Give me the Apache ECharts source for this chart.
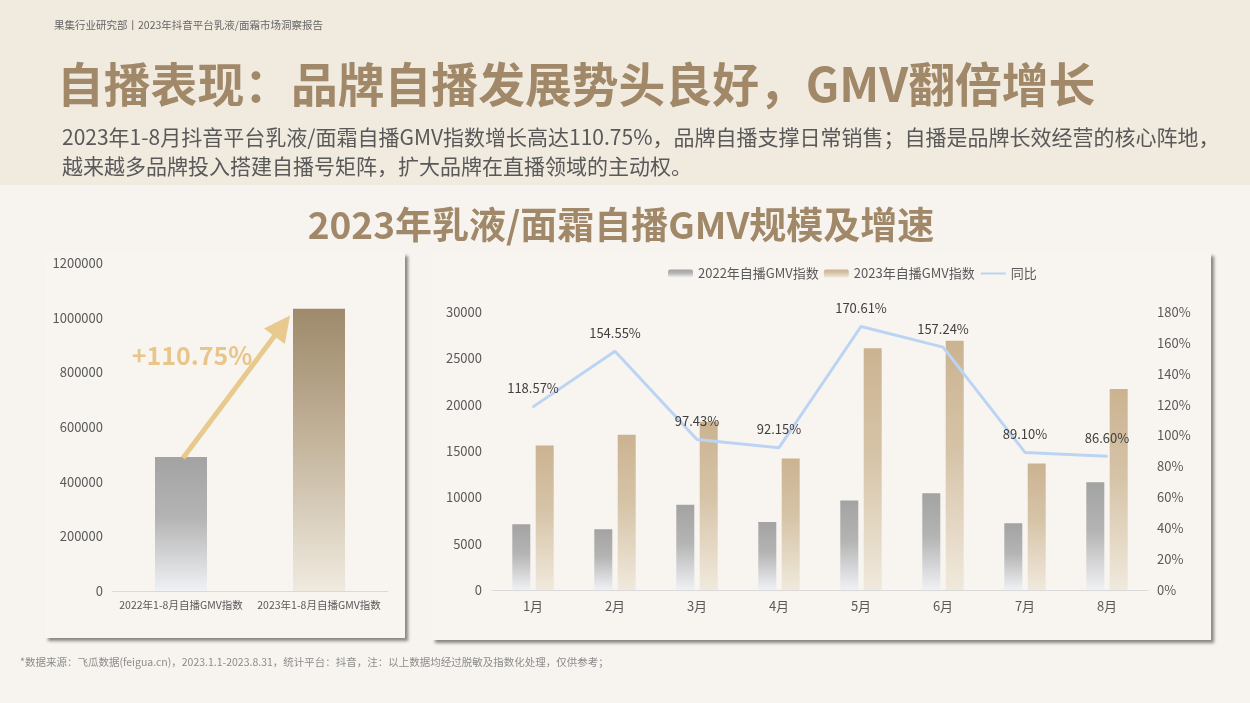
<!DOCTYPE html>
<html><head><meta charset="utf-8">
<script src="https://cdn.jsdelivr.net/npm/echarts@6.0.0/dist/echarts.min.js"></script>
<style>html,body{margin:0;padding:0;background:#f7f4ef}#c{width:1250px;height:703px}</style>
</head><body><div id="c"></div>
<script>
// ---- data ----
const totalCategories = ['2022年1-8月自播GMV指数', '2023年1-8月自播GMV指数'];
const totalValues = [490000, 1032700];
const totalGrowthText = '+110.75%';
const months = ['1月', '2月', '3月', '4月', '5月', '6月', '7月', '8月'];
const gmv2022 = [7100, 6550, 9200, 7350, 9650, 10440, 7200, 11630];
const gmv2023 = [15600, 16750, 18160, 14200, 26100, 26900, 13650, 21700];
const yoyPct = [118.57, 154.55, 97.43, 92.15, 170.61, 157.24, 89.10, 86.60];
const seriesNames = ['2022年自播GMV指数', '2023年自播GMV指数', '同比'];
const headerText = '果集行业研究部丨2023年抖音平台乳液/面霜市场洞察报告';
const titleText = '自播表现：品牌自播发展势头良好，GMV翻倍增长';
const subLines = ['2023年1-8月抖音平台乳液/面霜自播GMV指数增长高达110.75%，品牌自播支撑日常销售；自播是品牌长效经营的核心阵地，',
                  '越来越多品牌投入搭建自播号矩阵，扩大品牌在直播领域的主动权。'];
const chartTitle = '2023年乳液/面霜自播GMV规模及增速';
const footText = '*数据来源：飞瓜数据(feigua.cn)，2023.1.1-2023.8.31，统计平台：抖音，注：以上数据均经过脱敏及指数化处理，仅供参考；';

const FONT = '"Noto Sans CJK SC", "Noto Sans", sans-serif';
const TITLE_COLOR = '#a08868';

function grad(top, mid, bottom) {
  return new echarts.graphic.LinearGradient(0, 0, 0, 1, [
    { offset: 0, color: top }, { offset: 0.45, color: mid }, { offset: 1, color: bottom }
  ]);
}
const grey = () => grad('#a3a3a3', '#b4b4b4', '#f0f1f4');
const tan = () => grad('#cbb391', '#d6c4a8', '#f0e9dc');
const tanDark = () => grad('#9e8a6b', '#c2b299', '#efeadf');

const chart = echarts.init(document.getElementById('c'), null, { renderer: 'canvas' });

function baseGraphics(extra) {
  const els = [
    { id: 'bg', type: 'rect', z: -100, shape: { x: 0, y: 0, width: 1250, height: 703 }, style: { fill: '#f7f4ef' } },
    { id: 'hdr', type: 'rect', z: -99, shape: { x: 0, y: 0, width: 1250, height: 185 }, style: { fill: '#f0eadf' } },
    { id: 'p1', type: 'rect', z: -98, shape: { x: 45, y: 253, width: 360, height: 385 },
      style: { fill: '#f8f5f0', shadowBlur: 3, shadowOffsetX: 3, shadowOffsetY: 3, shadowColor: 'rgba(0,0,0,0.45)' } },
    { id: 'p2', type: 'rect', z: -98, shape: { x: 432, y: 253, width: 779, height: 387 },
      style: { fill: '#f8f5f0', shadowBlur: 3, shadowOffsetX: 3, shadowOffsetY: 3, shadowColor: 'rgba(0,0,0,0.45)' } },
    { id: 't0', type: 'text', z: 50, x: 54, y: 25, style: { text: headerText, font: '10.5px ' + FONT, fill: '#666', textVerticalAlign: 'middle' } },
    { id: 't1', type: 'text', z: 50, x: 57, y: 84, style: { text: titleText, font: 'bold 46.8px ' + FONT, fill: TITLE_COLOR, textVerticalAlign: 'middle' } },
    { id: 't2', type: 'text', z: 50, x: 62, y: 137, style: { text: subLines[0], font: '21px ' + FONT, fill: '#595959', textVerticalAlign: 'middle' } },
    { id: 't3', type: 'text', z: 50, x: 62, y: 166, style: { text: subLines[1], font: '21px ' + FONT, fill: '#595959', textVerticalAlign: 'middle' } },
    { id: 't4', type: 'text', z: 50, x: 621, y: 225, style: { text: chartTitle, font: 'bold 37px ' + FONT, fill: TITLE_COLOR, textAlign: 'center', textVerticalAlign: 'middle' } },
    { id: 't5', type: 'text', z: 50, x: 20, y: 662, style: { text: footText, font: '10.5px ' + FONT, fill: '#8c8c8c', textVerticalAlign: 'middle' } },
    { id: 't6', type: 'text', z: 60, x: 192, y: 355, style: { text: totalGrowthText, font: 'bold 25px ' + FONT, fill: '#e8c68a', textAlign: 'center', textVerticalAlign: 'middle' } }
  ];
  return els.concat(extra || []);
}

const axisLabelStyle = { color: '#595959', fontSize: 13, fontFamily: FONT };
const plain = v => String(v);

const option = {
  animation: false,
  textStyle: { fontFamily: FONT },
  graphic: { elements: baseGraphics() },
  legend: {
    data: [seriesNames[0], seriesNames[1], { name: seriesNames[2], itemStyle: { opacity: 0 } }],
    left: 663, top: 262, itemWidth: 25, itemHeight: 8, itemGap: 5,
    textStyle: { color: '#595959', fontSize: 13, fontFamily: FONT }
  },
  grid: [
    { left: 112, right: 862, top: 263, bottom: 112 },
    { left: 492, right: 102, top: 312, bottom: 113 }
  ],
  xAxis: [
    { type: 'category', gridIndex: 0, data: totalCategories,
      axisLine: { lineStyle: { color: '#d9d9d9' } }, axisTick: { show: false },
      axisLabel: { color: '#595959', fontSize: 10.5, margin: 9, interval: 0 } },
    { type: 'category', gridIndex: 1, data: months,
      axisLine: { lineStyle: { color: '#d9d9d9' } }, axisTick: { show: false },
      axisLabel: Object.assign({ margin: 10, interval: 0 }, axisLabelStyle) }
  ],
  yAxis: [
    { type: 'value', gridIndex: 0, min: 0, max: 1200000, interval: 200000,
      splitLine: { show: false }, axisLine: { show: false }, axisTick: { show: false },
      axisLabel: Object.assign({ margin: 9, formatter: plain }, axisLabelStyle) },
    { type: 'value', gridIndex: 1, min: 0, max: 30000, interval: 5000,
      splitLine: { show: false }, axisLine: { show: false }, axisTick: { show: false },
      axisLabel: Object.assign({ margin: 10, formatter: plain }, axisLabelStyle) },
    { type: 'value', gridIndex: 1, position: 'right', min: 0, max: 180, interval: 20,
      splitLine: { show: false }, axisLine: { show: false }, axisTick: { show: false },
      axisLabel: Object.assign({ margin: 9, formatter: '{value}%' }, axisLabelStyle) }
  ],
  series: [
    { name: 'total', type: 'bar', xAxisIndex: 0, yAxisIndex: 0, barWidth: 52,
      data: totalValues.map((v, i) => ({ value: v, itemStyle: { color: i === 0 ? grey() : tanDark() } })) },
    { name: seriesNames[0], type: 'bar', xAxisIndex: 1, yAxisIndex: 1, barWidth: 18, barGap: '30%',
      itemStyle: { color: grey() }, data: gmv2022 },
    { name: seriesNames[1], type: 'bar', xAxisIndex: 1, yAxisIndex: 1, barWidth: 18, barGap: '30%',
      itemStyle: { color: tan() }, data: gmv2023 },
    { name: seriesNames[2], type: 'line', xAxisIndex: 1, yAxisIndex: 2, data: yoyPct,
      symbol: 'circle', symbolSize: 2, showSymbol: true, z: 5,
      itemStyle: { color: '#bcd4f4' },
      lineStyle: { color: '#bcd4f4', width: 3 },
      label: { show: true, position: 'top', distance: 11, color: '#404040', fontSize: 13, fontFamily: FONT,
        formatter: p => p.value.toFixed(2) + '%' } }
  ]
};
chart.setOption(option);

// arrow from 2022 bar top toward 2023 bar top (decoration), positioned via axes
const p0 = chart.convertToPixel({ xAxisIndex: 0, yAxisIndex: 0 }, [0, totalValues[0]]);
const p1 = chart.convertToPixel({ xAxisIndex: 0, yAxisIndex: 0 }, [1, totalValues[1]]);
const start = [p0[0] + 2, p0[1] + 1];
const tip = [p0[0] + 0.79 * (p1[0] - p0[0]), p0[1] + 0.955 * (p1[1] - p0[1])];
const dx = tip[0] - start[0], dy = tip[1] - start[1];
const len = Math.sqrt(dx * dx + dy * dy);
const ux = dx / len, uy = dy / len;
const headLen = 26, headHalf = 13;
const base = [tip[0] - ux * headLen, tip[1] - uy * headLen];
const nx = -uy, ny = ux;
const arrowEls = [
  { id: 'arrLine', type: 'line', z: 55, shape: { x1: start[0], y1: start[1], x2: base[0] + ux * 2, y2: base[1] + uy * 2 },
    style: { stroke: '#e8c98e', lineWidth: 5 } },
  { id: 'arrHead', type: 'polygon', z: 55, shape: { points: [tip, [base[0] + nx * headHalf, base[1] + ny * headHalf], [base[0] - nx * headHalf, base[1] - ny * headHalf]] },
    style: { fill: '#e8c98e' } }
];
chart.setOption({ graphic: { elements: baseGraphics(arrowEls) } });
</script></body></html>
